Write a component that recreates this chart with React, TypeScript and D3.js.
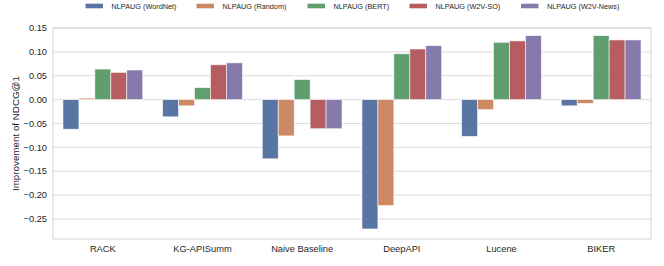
import React, { useEffect } from "react";
import * as d3 from "d3";

const categories = ["RACK", "KG-APISumm", "Naive Baseline", "DeepAPI", "Lucene", "BIKER"];
const seriesNames = ["NLPAUG (WordNet)", "NLPAUG (Random)", "NLPAUG (BERT)", "NLPAUG (W2V-SO)", "NLPAUG (W2V-News)"];
const wordnet = [-0.062, -0.036, -0.124, -0.271, -0.077, -0.013];
const random = [0.003, -0.013, -0.076, -0.222, -0.021, -0.008];
const bert = [0.064, 0.025, 0.042, 0.096, 0.120, 0.134];
const w2vSo = [0.057, 0.073, -0.061, 0.106, 0.123, 0.125];
const w2vNews = [0.062, 0.077, -0.061, 0.113, 0.134, 0.125];
const seriesValues = [wordnet, random, bert, w2vSo, w2vNews];
const yTicks = [0.15, 0.10, 0.05, 0.0, -0.05, -0.10, -0.15, -0.20, -0.25];
const yDomain = [-0.292, 0.150];

const colors = ["#5975a4", "#cc8963", "#5f9e6e", "#b55d60", "#857aab"];
const legendX = [85.5, 196.5, 307.5, 409.5, 521];

const W = 664, H = 266;
const M = { left: 53, right: 651, top: 28, bottom: 239 };
const FONT = "Arial, 'Liberation Sans', sans-serif";

export default function App() {
  useEffect(() => {
    document.body.style.margin = "0";
  }, []);

  const x = d3.scaleBand<string>().domain(categories).range([M.left, M.right]).paddingInner(0.2).paddingOuter(0.1);
  const xs = d3.scaleBand<number>().domain(d3.range(seriesNames.length)).range([0, x.bandwidth()]);
  const y = d3.scaleLinear().domain(yDomain).range([M.bottom, M.top]);
  const fmt = d3.format(".2f");

  return (
    <svg width={W} height={H} style={{ display: "block", background: "#fff" }} fontFamily={FONT}>
      <rect x={0} y={0} width={W} height={H} fill="#fff" />
      {yTicks.map((t) => (
        <g key={t}>
          <line x1={M.left} x2={M.right} y1={y(t)} y2={y(t)} stroke="#dcdcdc" strokeWidth={1} />
          <text x={M.left - 6} y={y(t)} dy="0.35em" textAnchor="end" fontSize={9.3} fill="#262626">
            {fmt(t).replace("-", "\u2212")}
          </text>
        </g>
      ))}
      {categories.map((c, ci) => (
        <g key={c}>
          {seriesValues.map((vals, si) => {
            const v = vals[ci];
            const x0 = (x(c) as number) + (xs(si) as number);
            const yTop = y(Math.max(0, v));
            const yBot = y(Math.min(0, v));
            return (
              <rect key={si} x={x0} y={yTop} width={xs.bandwidth()} height={Math.max(0.5, yBot - yTop)}
                fill={colors[si]} stroke="#ffffff" strokeOpacity={0.7} strokeWidth={0.8} />
            );
          })}
          <text x={(x(c) as number) + x.bandwidth() / 2} y={M.bottom + 9.5} dy="0.35em" textAnchor="middle" fontSize={9.3} fill="#262626">
            {c}
          </text>
        </g>
      ))}
      <rect x={M.left} y={M.top} width={M.right - M.left} height={M.bottom - M.top} fill="none" stroke="#d4d4d4" strokeWidth={1} />
      <text transform={`translate(16,${(M.top + M.bottom) / 2}) rotate(-90)`} textAnchor="middle" dy="0.35em" fontSize={9.8} fill="#262626">
        Improvement of NDCG@1
      </text>
      {seriesNames.map((n, i) => (
        <g key={n} transform={`translate(${legendX[i]},6)`}>
          <rect x={0} y={-2.3} width={17.5} height={4.6} fill={colors[i]} />
          <text x={26} y={0} dy="0.35em" fontSize={7.3} fill="#262626">{n}</text>
        </g>
      ))}
    </svg>
  );
}
